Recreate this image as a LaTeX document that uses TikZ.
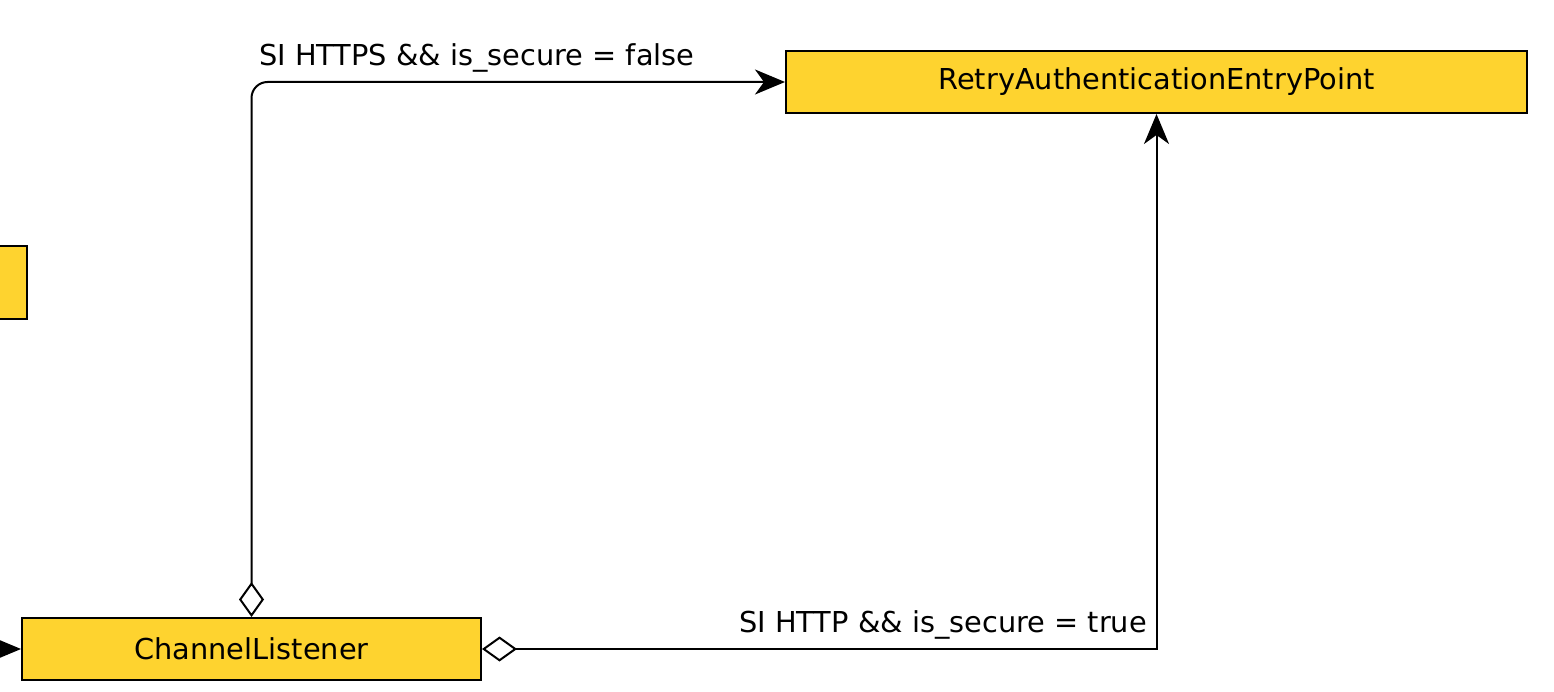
\documentclass[tikz,border=0pt]{standalone}
\usepackage{fontspec}
\setmainfont{DejaVu Sans}
\usetikzlibrary{arrows.meta}
\definecolor{boxfill}{RGB}{254,211,47}
\tikzset{
  classbox/.style={draw=black, line width=2pt, fill=boxfill, inner sep=0pt,
    minimum height=62pt, font=\fontsize{28.8}{34}\selectfont},
  conn/.style={line width=2pt, draw=black},
  tiphead/.tip={Stealth[length=30pt, width=25pt, inset=9pt]},
  agg/.tip={Diamond[open, fill=white, length=35pt, width=25pt, line width=2pt]},
  lbl/.style={inner sep=0pt, font=\fontsize{28.8}{34}\selectfont}
}
\begin{document}
\begin{tikzpicture}[x=1pt,y=-1pt]
\useasboundingbox (0,0) rectangle (1554,692);
\node[classbox, minimum width=741pt] (rae) at (1156.5,82) {RetryAuthenticationEntryPoint};
\node[classbox, minimum width=459pt] (cl) at (251.5,649) {ChannelListener};
\node[classbox, minimum width=130pt, minimum height=73pt] (left) at (-38,282.5) {};
\coordinate (in) at (-40,649);
\draw[conn, -tiphead] (in) -- (cl.west);
\draw[conn, agg-tiphead, rounded corners=16pt] (cl.north) |- (rae.west);
\draw[conn, agg-tiphead] (cl.east) -| (rae.south);
\node[lbl, anchor=base west] (l1) at (259,66) {SI HTTPS \&\& is\_secure = false};
\node[lbl, anchor=base east] (l2) at (1147,632) {SI HTTP \&\& is\_secure = true};
\end{tikzpicture}
\end{document}
